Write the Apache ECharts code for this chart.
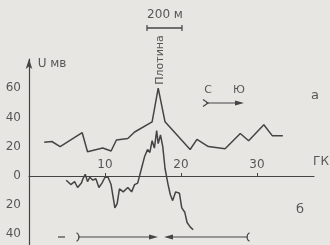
<!DOCTYPE html>
<html>
<head>
<meta charset="utf-8">
<script src="https://cdn.jsdelivr.net/npm/echarts@6/dist/echarts.min.js"></script>
<style>
  html, body { margin: 0; padding: 0; background: #e7e6e2; }
  #chart { width: 330px; height: 245px; }
</style>
</head>
<body>
<div id="chart"></div>
<script>
// curve a: potential along profile, [km, mV]
const curveA = [
  [2.0, 23], [3.0, 23.5], [4.1, 20], [7.0, 29.5], [7.7, 16.5], [9.7, 19],
  [10.8, 17], [11.5, 24.5], [13.0, 25.5], [13.9, 30], [16.2, 37], [17.0, 60],
  [17.9, 37], [21.2, 18], [22.1, 25], [23.6, 20], [25.8, 18.5], [27.8, 29],
  [28.9, 24], [30.9, 35], [32.0, 27.5], [33.4, 27.5]
]
// curve b
const curveB = [
  [4.9, -3], [5.5, -6], [6.0, -4], [6.4, -8], [6.9, -5], [7.1, -2], [7.4, 1],
  [7.7, -4], [8.0, -1], [8.4, -3], [8.8, -2], [9.2, -8], [9.6, -5], [10.0, -1],
  [10.4, -1], [10.8, -6], [11.3, -22], [11.6, -19], [11.9, -9], [12.4, -11],
  [13.0, -8], [13.5, -11], [13.9, -6], [14.3, -5], [14.8, 5], [15.2, 13],
  [15.6, 18], [15.9, 16], [16.2, 24], [16.5, 19], [16.8, 31], [17.0, 22],
  [17.3, 28], [17.6, 20], [17.9, 5], [18.3, -6], [18.6, -13], [18.9, -17],
  [19.3, -11], [19.8, -12], [20.1, -22], [20.5, -25], [20.8, -32], [21.2, -35],
  [21.6, -37]
]
const xTicks = [10, 20, 30]
const yTicks = [60, 40, 20, 0, -20, -40]

const ink = '#444'
const txt = '#575757'
const font = 'DejaVu Sans'

const chart = echarts.init(document.getElementById('chart'))

function txtEl(x, y, s, size, extra) {
  return Object.assign({
    type: 'text', x: x, y: y,
    style: { text: s, fill: txt, font: size + 'px "' + font + '"', align: 'center', verticalAlign: 'middle' }
  }, extra || {})
}
function line(x1, y1, x2, y2, w) {
  return { type: 'line', shape: { x1, y1, x2, y2 }, style: { stroke: ink, lineWidth: w || 1 } }
}
function head(x, y, dir) {
  // dir 1 = pointing right, -1 = left
  return {
    type: 'polygon',
    shape: { points: [[x, y], [x - dir * 9, y - 2.5], [x - dir * 9, y + 2.5]] },
    style: { fill: ink }
  }
}

chart.setOption({
  backgroundColor: '#e7e6e2',
  animation: false,
  grid: [
    { left: 29, width: 285, top: 59, height: 204.4, outerBoundsMode: 'none' },
    // upper half only, its bottom edge sits on the zero line: carries the km labels
    { left: 29, width: 285, top: 59, height: 117, outerBoundsMode: 'none' }
  ],
  xAxis: [
    {
      type: 'value',
      min: 0,
      max: 37.5,
      interval: 10,
      axisLine: { onZero: true, lineStyle: { color: ink, width: 1.2 } },
      axisTick: { show: false },
      axisLabel: { show: false },
      splitLine: { show: false }
    },
    {
      type: 'value',
      gridIndex: 1,
      min: 0,
      max: 37.5,
      interval: 10,
      axisLine: { show: false },
      axisTick: { show: true, inside: true, length: 3, lineStyle: { color: ink } },
      axisLabel: {
        inside: true,
        margin: 5,
        color: txt,
        fontFamily: font,
        fontSize: 12,
        showMaxLabel: false,
        formatter: v => (xTicks.indexOf(v) >= 0 ? String(v) : '')
      },
      splitLine: { show: false }
    }
  ],
  yAxis: [
    {
      type: 'value',
      min: -60,
      max: 80,
      interval: 20,
      axisLine: {
        show: true,
        symbol: ['none', 'arrow'],
        symbolSize: [5, 10],
        lineStyle: { color: ink, width: 1.2 }
      },
      axisTick: { show: false },
      axisLabel: {
        margin: 8,
        color: txt,
        fontFamily: font,
        fontSize: 12,
        formatter: v => (yTicks.indexOf(v) >= 0 ? String(Math.abs(v)) : '')
      },
      splitLine: { show: false }
    },
    { type: 'value', gridIndex: 1, min: 0, max: 1, show: false }
  ],
  series: [
    {
      name: 'a',
      type: 'line',
      data: curveA,
      showSymbol: false,
      lineStyle: { color: ink, width: 1.5 }
    },
    {
      name: 'b',
      type: 'line',
      data: curveB,
      showSymbol: false,
      lineStyle: { color: ink, width: 1.5 }
    }
  ],
  graphic: [
    txtEl(52, 64, 'U мв', 12),
    txtEl(165, 15, '200 м', 12),
    line(147, 28, 182, 28, 1.5),
    line(147, 25, 147, 31, 1.2),
    line(182, 25, 182, 31, 1.2),
    txtEl(160, 60, 'Плотина', 11, { rotation: Math.PI / 2 }),
    txtEl(208, 90, 'С', 11),
    txtEl(239, 90, 'Ю', 11),
    line(206, 103, 240, 103, 1.2),
    head(244, 103, 1),
    { type: 'polyline', shape: { points: [[203, 99.5], [208, 103], [203, 106.5]] }, style: { stroke: ink, fill: null, lineWidth: 1.2 } },
    txtEl(315, 96, 'а', 13),
    txtEl(300, 210, 'б', 13),
    txtEl(321, 162, 'ГК', 12),
    // bottom arrows
    line(58, 237, 65, 237, 1.2),
    line(78, 237, 150, 237, 1),
    head(158, 237, 1),
    line(172, 237, 248, 237, 1),
    head(164, 237, -1),
    { type: 'arc', shape: { cx: 74, cy: 237, r: 5, startAngle: -Math.PI / 3, endAngle: Math.PI / 3 }, style: { stroke: ink, fill: null, lineWidth: 1.2 } },
    { type: 'arc', shape: { cx: 252, cy: 237, r: 5, startAngle: Math.PI * 2 / 3, endAngle: Math.PI * 4 / 3 }, style: { stroke: ink, fill: null, lineWidth: 1.2 } }
  ]
})
</script>
</body>
</html>
